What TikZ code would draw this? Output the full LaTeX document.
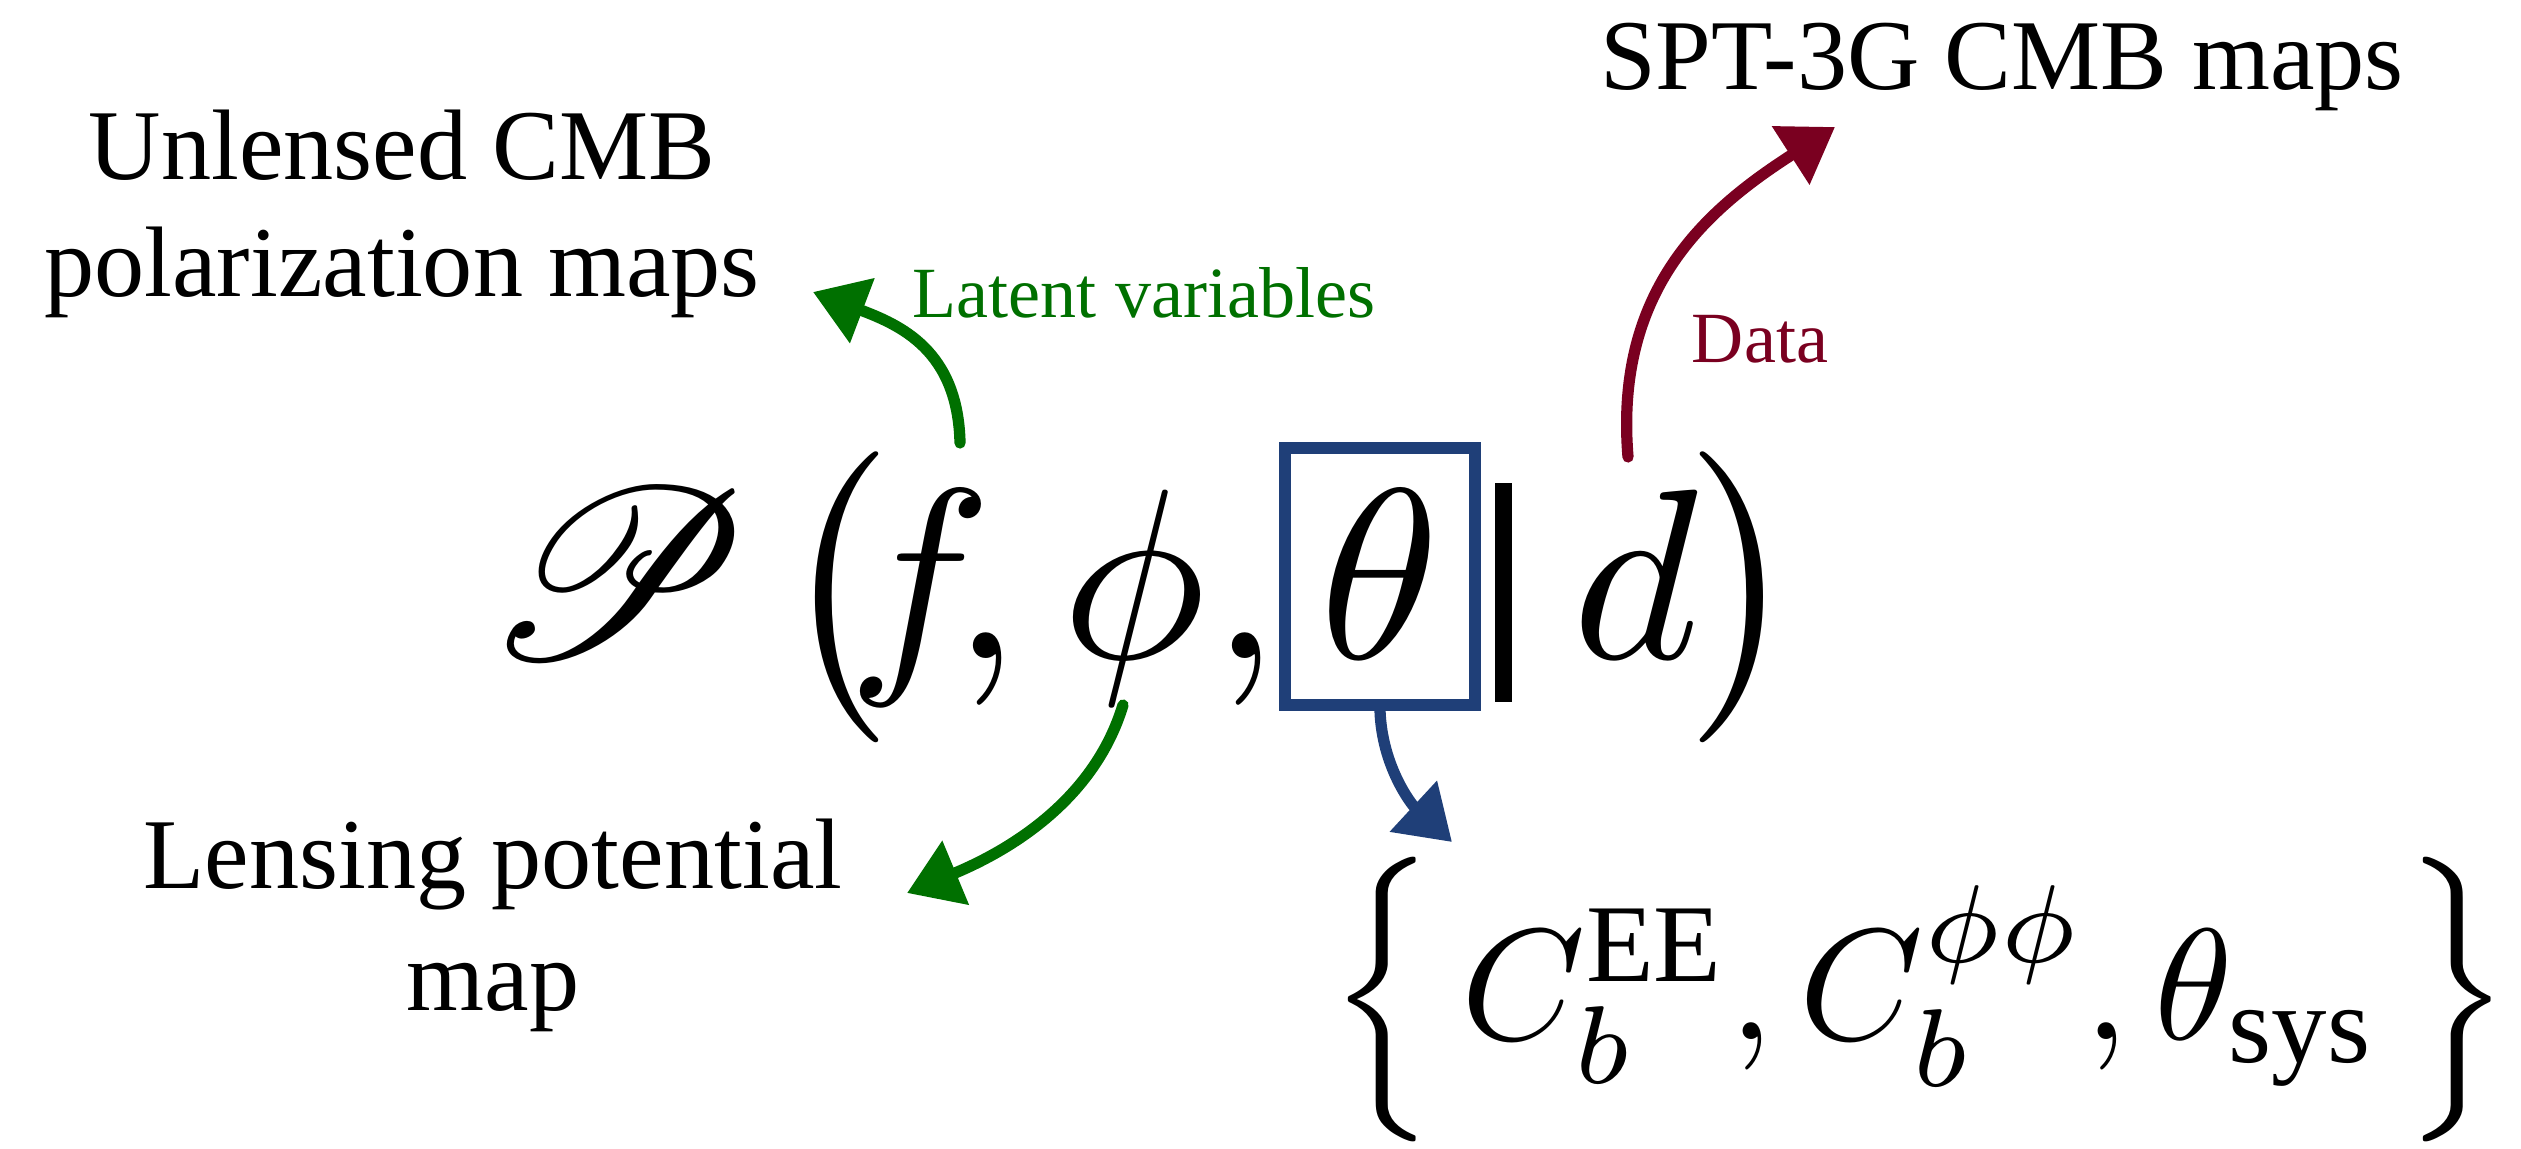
\documentclass[tikz,border=0pt]{standalone}
\usepackage{amsmath}
\usepackage{mathrsfs}
\usepackage{graphicx}
\usepackage{fontspec}
\setmainfont{Liberation Serif}
\usetikzlibrary{arrows.meta}
\definecolor{cgreen}{RGB}{0,112,0}
\definecolor{cred}{RGB}{122,0,32}
\definecolor{cblue}{RGB}{31,63,120}
\newcommand{\bigmath}[1]{\scalebox{6.9}{$#1$}}
\newcommand{\setmath}[1]{\scalebox{4.5}{$#1$}}
\tikzset{
  lbl/.style={font=\fontsize{28.5}{34}\selectfont, inner sep=0pt, anchor=base},
  sml/.style={font=\fontsize{20.5}{24}\selectfont, inner sep=0pt, anchor=base},
  bigm/.style={font=\fontsize{10}{12}\selectfont, inner sep=0pt, anchor=base},
  arr/.style={line width=3.2pt, line cap=round, -{Triangle[length=15pt,width=19pt]}},
  tbox/.style={draw=cblue, line width=3.2pt, inner sep=0pt, minimum width=1.9cm, minimum height=2.57cm},
}
\begin{document}
\begin{tikzpicture}[x=0.01cm, y=-0.01cm]
\fill[white] (0,0) rectangle (2521,1149);
\useasboundingbox (0,0) rectangle (2521,1149);

% labels
\node[lbl] (unl1) at (402,180) {Unlensed CMB};
\node[lbl] (unl2) at (402,297) {polarization maps};
\node[sml, text=cgreen] (latent) at (1144,318) {Latent variables};
\node[lbl] (spt) at (2002,90) {SPT-3G CMB maps};
\node[sml, text=cred] (data) at (1760,363) {Data};
\node[lbl] (lens1) at (493,888) {Lensing potential};
\node[lbl] (lens2) at (493,1010) {map};

% main formula
\node[bigm] (P) at (617,658) {\bigmath{\mathscr{P}}};
\node[bigm] (lp) at (834,658) {\bigmath{\bigl(}};
\node[bigm] (f) at (920,658) {\bigmath{f}};
\node[bigm] (c1) at (986,658) {\bigmath{,}};
\node[bigm] (phi) at (1134,658) {\bigmath{\phi}};
\node[bigm] (c2) at (1245,658) {\bigmath{,}};
\node[bigm] (theta) at (1380,658) {\bigmath{\theta}};
\node[tbox] (tbox) at (1380,576.5) {};
\node[fill=black, inner sep=0pt, minimum width=0.17cm, minimum height=2.19cm] (bar) at (1503.5,592.5) {};
\node[bigm] (d) at (1636,658) {\bigmath{d}};
\node[bigm] (rp) at (1745,658) {\bigmath{\bigr)}};

% parameter set
\node[bigm] (set) at (1920,1039) {\setmath{\Bigl\{\,C_b^{\mathrm{EE}},C_b^{\phi\phi},\theta_{\mathrm{sys}}\,\Bigr\}}};

% arrow end points
\coordinate (gu0) at (960,443);
\coordinate (gu1) at (813,292);
\coordinate (rd0) at (1628,457);
\coordinate (rd1) at (1835,127);
\coordinate (gd0) at (1123,705);
\coordinate (gd1) at (907,893);
\coordinate (bl1) at (1452,842);

\draw[arr, cgreen] (gu0) .. controls (958,350) and (900,325) .. (gu1);
\draw[arr, cred] (rd0) .. controls (1614,287) and (1709,208) .. (rd1);
\draw[arr, cgreen] (gd0) .. controls (1094,801) and (1008,851) .. (gd1);
\draw[arr, cblue] (tbox.south) .. controls (1382,767) and (1412,805) .. (bl1);
\end{tikzpicture}
\end{document}
